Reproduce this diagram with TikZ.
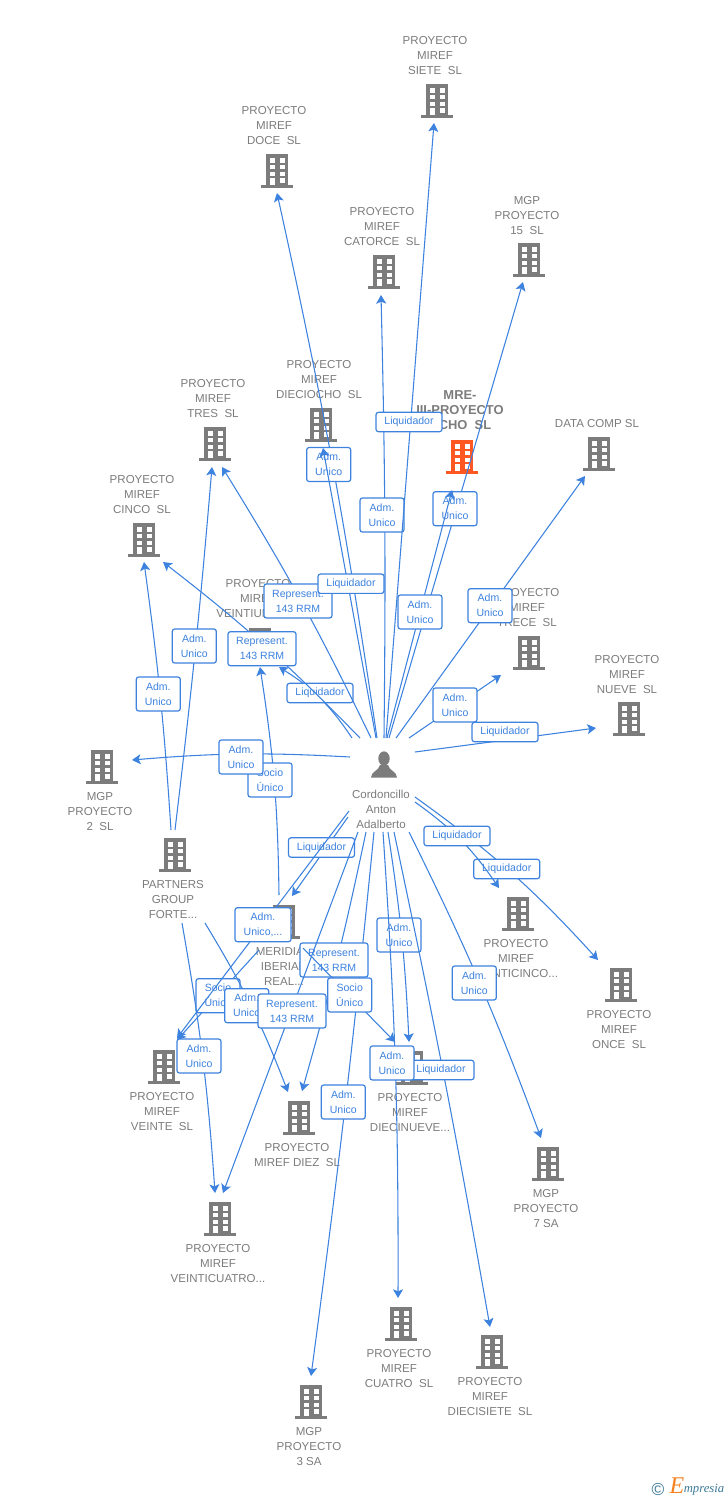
\documentclass[tikz,border=0pt]{standalone}
\usepackage{fontspec}
\setmainfont{Liberation Sans}
\newfontfamily\logofont{Liberation Serif}
\usetikzlibrary{arrows.meta}
\definecolor{firmgray}{RGB}{124,124,124}
\definecolor{linkblue}{RGB}{60,130,222}
\definecolor{firmorange}{RGB}{255,87,34}
\definecolor{logoteal}{RGB}{58,120,150}
\definecolor{logoorange}{RGB}{245,130,30}
\tikzset{
  firm/.style={inner sep=0pt,align=center,text=firmgray,font=\fontsize{8.65}{11.25}\selectfont},
  link/.style={draw=linkblue,line width=0.8pt,-{Stealth[length=6.5pt,width=7.5pt,inset=1.5pt]}},
  tag/.style={draw=linkblue,line width=0.9pt,fill=white,rounded corners=1.8pt,inner sep=0pt,align=center,text=linkblue,font=\fontsize{7.9}{11.25}\selectfont,minimum width=33pt,minimum height=25.5pt},
  tagrep/.style={tag,minimum width=51pt},
  tagliq/.style={tag,minimum width=49.5pt,minimum height=14.5pt},
  tagmore/.style={tag,minimum width=42pt},
  pics/building/.style={code={
    \begin{scope}[yscale=-1]
    \fill [#1] (-11,-16.7) rectangle (11,14);
    \fill [#1] (-16,14) rectangle (16,16.7);
    \foreach \r in {-12.7,-6,0.7}{
      \fill [white] (-7,\r) rectangle (-2,\r+4.4);
      \fill [white] (3,\r) rectangle (8,\r+4.4);
    }
    \fill [white] (-7,7.3) rectangle (-2,14);
    \fill [white] (3,7.3) rectangle (8,11.7);
    \end{scope}
  }},
  pics/person/.style={code={
    \begin{scope}[yscale=-1]
    \fill [firmgray] (0,-6.5) ellipse (5.7 and 7.2);
    \fill [firmgray] (-13,12.7) .. controls (-13,6) and (-5,6) .. (-4,0) -- (4,0) .. controls (5,6) and (13,6) .. (13,12.7) -- cycle;
    \end{scope}
  }}
}
\begin{document}
\begin{tikzpicture}[x=0.75pt,y=0.75pt,yscale=-1,xscale=1]
        \useasboundingbox (0,0) rectangle (728,1500);

        % Firm icons
        \pic at (437,101) {building=firmgray};
        \pic at (277,171) {building=firmgray};
        \pic at (384,272) {building=firmgray};
        \pic at (529,260) {building=firmgray};
        \pic at (321,425) {building=firmgray};
        \pic at (462,457) {building=firmorange};
        \pic at (599,454) {building=firmgray};
        \pic at (215,444) {building=firmgray};
        \pic at (144,540) {building=firmgray};
        \pic at (260,645) {building=firmgray};
        \pic at (529,653) {building=firmgray};
        \pic at (629,719) {building=firmgray};
        \pic at (102,767) {building=firmgray};
        \pic at (175,855) {building=firmgray};
        \pic at (284,922) {building=firmgray};
        \pic at (518,914) {building=firmgray};
        \pic at (621,985) {building=firmgray};
        \pic at (164,1067) {building=firmgray};
        \pic at (299,1118) {building=firmgray};
        \pic at (412,1068) {building=firmgray};
        \pic at (548,1164) {building=firmgray};
        \pic at (220,1219) {building=firmgray};
        \pic at (401,1324) {building=firmgray};
        \pic at (492,1352) {building=firmgray};
        \pic at (311,1402) {building=firmgray};
        \pic at (384,765) {person};

        % Text Node
        \draw (435,56) node (siete) [firm] {PROYECTO\\MIREF\\SIETE~~SL};
        \draw (274,126) node (doce) [firm] {PROYECTO\\MIREF\\DOCE~~SL};
        \draw (382,227) node (catorce) [firm] {PROYECTO\\MIREF\\CATORCE~~SL};
        \draw (527,216) node (quince) [firm] {MGP\\PROYECTO\\15~~SL};
        \draw (319,380) node (dieciocho) [firm] {PROYECTO\\MIREF\\DIECIOCHO~~SL};
        \draw (460,410) node (ocho) [firm,font=\fontsize{9.7}{11.25}\selectfont\bfseries] {MRE-\\III-PROYECTO\\OCHO~~SL};
        \draw (597,424) node (datacomp) [firm] {DATA COMP SL};
        \draw (213,399) node (tres) [firm] {PROYECTO\\MIREF\\TRES~~SL};
        \draw (142,495) node (cinco) [firm] {PROYECTO\\MIREF\\CINCO~~SL};
        \draw (258,599) node (veintiuno) [firm] {PROYECTO\\MIREF\\VEINTIUNO~~SL};
        \draw (527,608) node (trece) [firm] {PROYECTO\\MIREF\\TRECE~~SL};
        \draw (627,675) node (nueve) [firm] {PROYECTO\\MIREF\\NUEVE~~SL};
        \draw (100,812) node (dos) [firm] {MGP\\PROYECTO\\2~~SL};
        \draw (173,900) node (partners) [firm] {PARTNERS\\GROUP\\FORTE...};
        \draw (284,967) node (meridian) [firm] {MERIDIAN\\IBERIAN\\REAL...};
        \draw (516,959) node (veinticinco) [firm] {PROYECTO\\MIREF\\VEINTICINCO...};
        \draw (619,1030) node (once) [firm] {PROYECTO\\MIREF\\ONCE~~SL};
        \draw (162,1112) node (veinte) [firm] {PROYECTO\\MIREF\\VEINTE~~SL};
        \draw (297,1155.5) node (diez) [firm] {PROYECTO\\MIREF DIEZ~~SL};
        \draw (410,1113) node (diecinueve) [firm] {PROYECTO\\MIREF\\DIECINUEVE...};
        \draw (546,1209) node (siete7) [firm] {MGP\\PROYECTO\\7 SA};
        \draw (218,1264) node (veinticuatro) [firm] {PROYECTO\\MIREF\\VEINTICUATRO...};
        \draw (399,1369) node (cuatro) [firm] {PROYECTO\\MIREF\\CUATRO~~SL};
        \draw (490,1397) node (diecisiete) [firm] {PROYECTO\\MIREF\\DIECISIETE~~SL};
        \draw (309,1447) node (tresSA) [firm] {MGP\\PROYECTO\\3 SA};
        \draw (381,809) node (cordoncillo) [firm] {Cordoncillo\\Anton\\Adalberto};

        % Connector ends
        \coordinate (sSiete) at (386,738);      \coordinate (tSiete) at (434,123);
        \coordinate (sDoce) at (377,738);       \coordinate (tDoce) at (277,193);
        \coordinate (sCatorce) at (384,738);    \coordinate (tCatorce) at (381,295);
        \coordinate (sQuince) at (389,738);     \coordinate (tQuince) at (523,282);
        \coordinate (sDieciocho) at (376,738);  \coordinate (tDieciocho) at (323,448);
        \coordinate (sOcho) at (387,738);       \coordinate (tOcho) at (452,490);
        \coordinate (sData) at (396,738);       \coordinate (tData) at (585,476);
        \coordinate (sTrece) at (409,738);      \coordinate (tTrece) at (501,675);
        \coordinate (sNueve) at (415,752);      \coordinate (tNueve) at (596,728);
        \coordinate (sTres) at (371,738);       \coordinate (tTres) at (222,467);
        \coordinate (pTres) at (175,830);       \coordinate (uTres) at (212,467);
        \coordinate (pCinco) at (171,830);      \coordinate (uCinco) at (144,562);
        \coordinate (sCinco) at (360,738);      \coordinate (tCinco) at (163,562);
        \coordinate (sVeintiuno) at (352,738);  \coordinate (tVeintiuno) at (279,667);
        \coordinate (mVeintiuno) at (279,895);  \coordinate (uVeintiuno) at (260,667);
        \coordinate (sDos) at (350,757);        \coordinate (tDos) at (132,760);
        \coordinate (sMeridian) at (348,817);   \coordinate (tMeridian) at (292,896);
        \coordinate (mVeinte) at (259,950);     \coordinate (uVeinte) at (177,1040);
        \coordinate (sVeinte) at (349,811);     \coordinate (tVeinte) at (177,1038);
        \coordinate (pDiez) at (205,923);       \coordinate (uDiez) at (288,1092);
        \coordinate (pVeinti) at (182,923);     \coordinate (uVeinti) at (215,1193);
        \coordinate (sDiez) at (366,832);       \coordinate (tDiez) at (302,1091);
        \coordinate (sVeinti) at (358,832);     \coordinate (tVeinti) at (223,1193);
        \coordinate (mNueve) at (303,948);      \coordinate (uNueve) at (395,1042);
        \coordinate (sTresSA) at (374,832);     \coordinate (tTresSA) at (311,1376);
        \coordinate (sNueveD) at (388,832);     \coordinate (tNueveD) at (409,1042);
        \coordinate (sCuatro) at (383,832);     \coordinate (tCuatro) at (398,1298);
        \coordinate (sDiecisiete) at (394,832); \coordinate (tDiecisiete) at (490,1327);
        \coordinate (sSieteSA) at (409,832);    \coordinate (tSieteSA) at (541,1138);
        \coordinate (sCincoV) at (415,802);     \coordinate (tCincoV) at (499,888);
        \coordinate (sOnce) at (415,797);       \coordinate (tOnce) at (598,960);

        %Links above the person, each one with its tag
        \draw [link] (pCinco) to[bend left=2] (uCinco);
        \draw (158.3,694) node (admCinco) [tag] {Adm.\\Unico};
        \draw [link] (pTres) to[bend left=1] (uTres);
        \draw (194.3,646) node (admTres) [tag] {Adm.\\Unico};
        \draw [link] (mVeintiuno) to[bend left=4] (uVeintiuno);
        \draw (270,780) node (socioVeintiuno) [tag] {Socio\\Único};
        \draw [link] (sDos) to[bend left=4] (tDos);
        \draw (241,757) node (admDos) [tag] {Adm.\\Unico};
        \draw [link] (sVeintiuno) to[bend left=12] (tVeintiuno);
        \draw (320,693) node (liqVeintiuno) [tagliq] {Liquidador};
        \draw [link] (sCinco) to[bend left=4] (tCinco);
        \draw (262,648.7) node (repCinco) [tagrep] {Represent.\\143 RRM};
        \draw [link] (sTres) to[bend left=3] (tTres);
        \draw (298,601) node (repTres) [tagrep] {Represent.\\143 RRM};
        \draw [link] (sCatorce) to[bend left=1] (tCatorce);
        \draw (382,515) node (admCatorce) [tag] {Adm.\\Unico};
        \draw [link] (sDoce) to[bend left=2] (tDoce);
        \draw (328.7,464.5) node (admDoce) [tag] {Adm.\\Unico};
        \draw [link] (sDieciocho) -- (tDieciocho);
        \draw (351,583.7) node (liqDieciocho) [tagliq] {Liquidador};
        \draw [link] (sSiete) -- (tSiete);
        \draw (409,422) node (liqSiete) [tagliq] {Liquidador};
        \draw [link] (sQuince) -- (tQuince);
        \draw (455,508.7) node (admQuince) [tag] {Adm.\\Unico};
        \draw [link] (sOcho) -- (tOcho);
        \draw (420,612) node (admOcho) [tag] {Adm.\\Unico};
        \draw [link] (sData) -- (tData);
        \draw (490,605.7) node (admData) [tag] {Adm.\\Unico};
        \draw [link] (sTrece) -- (tTrece);
        \draw (455,705) node (admTrece) [tag] {Adm.\\Unico};
        \draw [link] (sNueve) -- (tNueve);
        \draw (505,732) node (liqNueve) [tagliq] {Liquidador};

        %Links below the person, each one with its tag
        \draw [link] (sMeridian) -- (tMeridian);
        \draw (321.5,847.5) node (liqMeridian) [tagliq] {Liquidador};
        \draw [link] (mVeinte) -- (uVeinte);
        \draw (218,995.7) node (socioVeinte) [tag] {Socio\\Único};
        \draw [link] (sVeinte) -- (tVeinte);
        \draw (263,924.7) node (admVeinte) [tagmore] {Adm.\\Unico,...};
        \draw [link] (pDiez) to[bend right=5] (uDiez);
        \draw (246.7,1005.7) node (admDiez) [tag] {Adm.\\Unico};
        \draw [link] (pVeinti) to[bend right=3] (uVeinti);
        \draw (199,1056) node (admVeinti) [tag] {Adm.\\Unico};
        \draw [link] (sTresSA) to[bend right=1] (tTresSA);
        \draw (343.3,1102) node (admTresSA) [tag] {Adm.\\Unico};
        \draw [link] (sDiez) to[bend right=2] (tDiez);
        \draw (334,960) node (repDiez) [tagrep] {Represent.\\143 RRM};
        \draw [link] (sVeinti) -- (tVeinti);
        \draw (292,1011) node (repVeinti) [tagrep] {Represent.\\143 RRM};
        \draw [link] (mNueve) -- (uNueve);
        \draw (349.7,995) node (socioNueve) [tag] {Socio\\Único};
        \draw [link] (sNueveD) to[bend right=3] (tNueveD);
        \draw (399,935) node (admNueveD) [tag] {Adm.\\Unico};
        \draw [link] (sDiecisiete) to[bend right=1] (tDiecisiete);
        \draw (441,1070) node (liqDiecisiete) [tagliq] {Liquidador};
        \draw [link] (sCuatro) to[bend right=2] (tCuatro);
        \draw (392,1063) node (admCuatro) [tag] {Adm.\\Unico};
        \draw [link] (sSieteSA) to[bend right=3] (tSieteSA);
        \draw (474.3,983) node (admSieteSA) [tag] {Adm.\\Unico};
        \draw [link] (sOnce) to[bend right=6] (tOnce);
        \draw (506.7,869) node (liqOnce) [tagliq] {Liquidador};
        \draw [link] (sCincoV) to[bend right=10] (tCincoV);
        \draw (457,836) node (liqCincoV) [tagliq] {Liquidador};

        % Logo
        \draw (658,1489) node (logoC) [inner sep=0pt,text=logoteal,font=\fontsize{13}{13}\selectfont] {©};
        \draw (677,1486) node (logoE) [inner sep=0pt,text=logoorange,font=\logofont\itshape\fontsize{18}{18}\selectfont] {E};
        \draw (704,1489.5) node (logoW) [inner sep=0pt,text=logoteal,font=\logofont\itshape\fontsize{9.5}{9.5}\selectfont] {mpresia};
\end{tikzpicture}
\end{document}
